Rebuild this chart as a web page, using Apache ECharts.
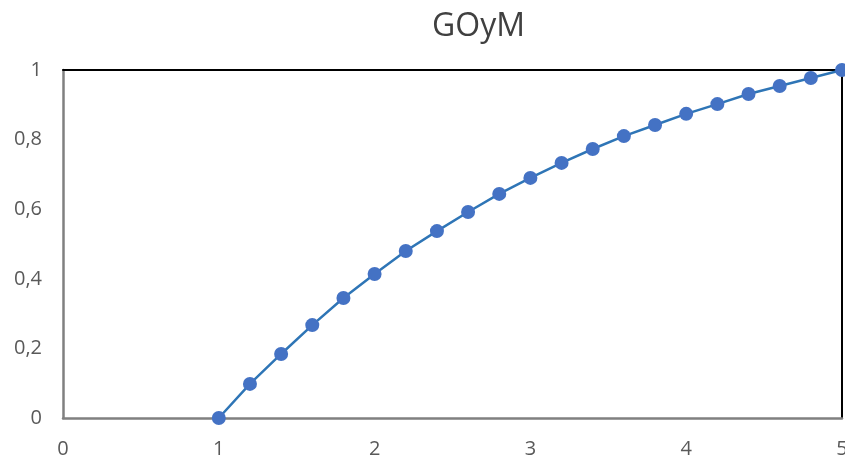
<!DOCTYPE html>
<html><head><meta charset="utf-8">
<script src="https://cdn.jsdelivr.net/npm/echarts@6/dist/echarts.min.js"></script>
<style>html,body{margin:0;padding:0;background:#fff}#c{width:845px;height:456px}</style>
</head><body><div id="c"></div>
<script>
const xValues = [1,1.2,1.4,1.6,1.8,2,2.2,2.4,2.6,2.8,3,3.2,3.4,3.6,3.8,4,4.2,4.4,4.6,4.8,5];
const yValues = [0,0.098,0.184,0.267,0.345,0.414,0.48,0.537,0.592,0.644,0.69,0.733,0.773,0.81,0.842,0.874,0.902,0.931,0.954,0.977,1];
const titleText = 'GOyM';
const chart = echarts.init(document.getElementById('c'), null, {renderer:'canvas'});
const font = '"Open Sans", "Liberation Sans", sans-serif';
chart.setOption({
  animation:false,
  title:{text:titleText,left:427,top:6,textStyle:{fontFamily:font,fontSize:32,fontWeight:'normal',color:'#404040'}},
  grid:{left:63,right:3,top:70,bottom:38,outerBoundsMode:'none',containLabel:false},
  xAxis:[
    {type:'value',min:0,max:5,interval:1,position:'bottom',
     axisLine:{show:true,onZero:false,lineStyle:{color:'#808080',width:2.5}},axisTick:{show:false},splitLine:{show:false},
     axisLabel:{margin:21,fontFamily:font,fontSize:20,color:'#595959',formatter:v=>String(v).replace('.',',')}},
    {type:'value',min:0,max:5,position:'top',
     axisLine:{show:true,onZero:false,lineStyle:{color:'#000',width:2}},axisTick:{show:false},splitLine:{show:false},axisLabel:{show:false}}
  ],
  yAxis:[
    {type:'value',min:0,max:1,interval:0.2,position:'left',
     axisLine:{show:true,onZero:false,lineStyle:{color:'#808080',width:2.5}},axisTick:{show:false},splitLine:{show:false},
     axisLabel:{margin:21,fontFamily:font,fontSize:20,color:'#595959',formatter:v=>String(Math.round(v*10)/10).replace('.',',')}},
    {type:'value',min:0,max:1,position:'right',
     axisLine:{show:true,onZero:false,lineStyle:{color:'#000',width:2}},axisTick:{show:false},splitLine:{show:false},axisLabel:{show:false}}
  ],
  series:[{type:'line',xAxisIndex:0,yAxisIndex:0,data:xValues.map((x,i)=>[x,yValues[i]]),
    symbol:'circle',symbolSize:14,clip:false,
    lineStyle:{color:'#2E75B6',width:2.5},itemStyle:{color:'#4472C4'},z:10}]
});
</script></body></html>
